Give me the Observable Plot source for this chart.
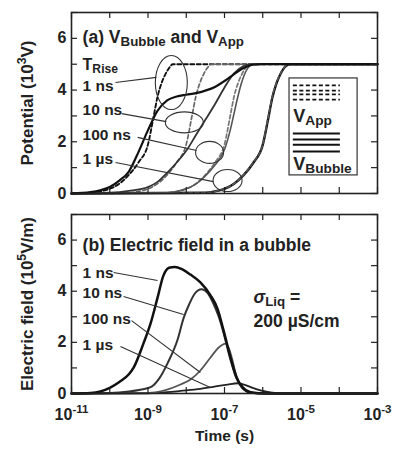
<!DOCTYPE html>
<html><head><meta charset="utf-8">
<script src="https://cdn.jsdelivr.net/npm/d3@7"></script>
<script src="https://cdn.jsdelivr.net/npm/@observablehq/plot@0.6"></script>
<style>
body{margin:0;background:#fff;}
#chart{position:relative;width:393px;height:454px;overflow:hidden;font-family:"Liberation Sans",Arial,sans-serif;}
#chart svg{position:absolute;left:0;}
</style></head><body><div id="chart"></div>
<script>
// ---------- DATA (x = log10(time / s)) ----------
const riseTimes = ["1 ns", "10 ns", "100 ns", "1 µs"];
const xTickExps = [-11, -9, -7, -5, -3];
const yTickLabels = [0, 2, 4, 6];

// (a) applied voltage (10^3 V), dashed
const vApp1ns   = [[-11,0],[-10.5,0.03],[-10.25,0.08],[-10,0.18],[-9.75,0.38],[-9.5,0.72],[-9.25,1.2],[-9,1.9],[-8.85,3.0],[-8.75,3.75],[-8.65,4.25],[-8.55,4.6],[-8.45,4.85],[-8.35,5],[-3,5]];
const vApp10ns  = [[-11,0],[-9.5,0.03],[-9.25,0.08],[-9,0.18],[-8.75,0.38],[-8.5,0.72],[-8.25,1.2],[-8,1.9],[-7.85,3.0],[-7.75,3.75],[-7.65,4.25],[-7.55,4.6],[-7.45,4.85],[-7.35,5],[-3,5]];
const vApp100ns = [[-11,0],[-8.5,0.03],[-8.25,0.08],[-8,0.18],[-7.75,0.38],[-7.5,0.72],[-7.25,1.2],[-7,1.9],[-6.85,3.0],[-6.75,3.75],[-6.65,4.25],[-6.55,4.6],[-6.45,4.85],[-6.35,5],[-3,5]];
const vApp1us   = [[-11,0],[-7.5,0.03],[-7.25,0.08],[-7,0.18],[-6.75,0.38],[-6.5,0.72],[-6.25,1.2],[-6,1.9],[-5.85,3.0],[-5.75,3.75],[-5.65,4.25],[-5.55,4.6],[-5.45,4.85],[-5.3,5],[-3,5]];
// (a) bubble voltage (10^3 V), solid
const vBub1ns   = [[-11,0],[-10.5,0.05],[-10.25,0.12],[-10,0.25],[-9.75,0.5],[-9.5,0.85],[-9.25,1.6],[-9,2.45],[-8.75,3.2],[-8.5,3.6],[-8.25,3.75],[-8,3.82],[-7.75,3.88],[-7.5,3.98],[-7.25,4.12],[-7,4.35],[-6.75,4.62],[-6.5,4.85],[-6.25,4.98],[-6,5],[-3,5]];
const vBub10ns  = [[-11,0],[-10,0.03],[-9.5,0.1],[-9,0.25],[-8.75,0.45],[-8.5,0.8],[-8.25,1.2],[-8,1.65],[-7.75,2.25],[-7.5,2.85],[-7.25,3.45],[-7,4.1],[-6.75,4.65],[-6.5,4.93],[-6.3,5],[-3,5]];
const vBub100ns = [[-11,0],[-8.5,0.03],[-8.25,0.08],[-8,0.18],[-7.75,0.36],[-7.5,0.68],[-7.25,1.1],[-7,1.7],[-6.85,2.45],[-6.75,3.1],[-6.65,3.75],[-6.55,4.3],[-6.45,4.7],[-6.35,4.92],[-6.25,5],[-3,5]];
const vBub1us   = [[-11,0],[-7.5,0.03],[-7.25,0.08],[-7,0.18],[-6.75,0.38],[-6.5,0.71],[-6.25,1.18],[-6,1.88],[-5.85,2.95],[-5.75,3.7],[-5.65,4.22],[-5.55,4.58],[-5.45,4.84],[-5.3,5],[-3,5]];
// (b) electric field in bubble (10^5 V/m)
const e1ns   = [[-11,0],[-10.5,0.02],[-10,0.22],[-9.75,0.45],[-9.5,0.75],[-9.38,1.0],[-9.12,1.95],[-8.93,2.75],[-8.75,3.75],[-8.6,4.6],[-8.45,4.92],[-8.3,4.95],[-8.1,4.85],[-7.89,4.65],[-7.63,4.35],[-7.37,3.85],[-7.18,3.3],[-7.03,2.5],[-6.84,1.4],[-6.69,0.65],[-6.53,0.25],[-6.32,0.05],[-5.9,0],[-3,0]];
const e10ns  = [[-11,0],[-10,0.02],[-9.5,0.08],[-9.2,0.15],[-8.93,0.25],[-8.7,0.6],[-8.49,1.18],[-8.23,2.09],[-8.07,2.95],[-7.92,3.5],[-7.78,3.9],[-7.6,4.08],[-7.45,3.95],[-7.3,3.55],[-7.15,3.0],[-7.03,2.4],[-6.84,1.3],[-6.69,0.6],[-6.53,0.2],[-6.32,0.03],[-5.9,0],[-3,0]];
const e100ns = [[-11,0],[-9,0.02],[-8.5,0.15],[-8.15,0.35],[-7.89,0.55],[-7.63,0.9],[-7.37,1.4],[-7.15,1.8],[-6.97,1.95],[-6.88,1.75],[-6.8,1.35],[-6.72,0.85],[-6.62,0.42],[-6.45,0.12],[-6.25,0.02],[-6,0],[-3,0]];
const e1us   = [[-11,0],[-9,0.01],[-8.5,0.05],[-8.15,0.1],[-7.63,0.18],[-7.29,0.26],[-6.92,0.35],[-6.65,0.4],[-6.45,0.33],[-6.3,0.24],[-6.06,0.12],[-5.8,0.04],[-5.5,0],[-3,0]];

// ---------- annotation placement (data units) ----------
const labelLogT = -10.71;
const topLabelV = [4.14, 3.21, 2.28, 1.35];
const botLabelV = [4.73, 3.91, 2.93, 1.88];
const topLeaders = [[-9.85,4.29,-8.78,4.49],[-9.69,3.09,-8.52,2.78],[-9.27,2.17,-7.73,1.66],[-9.85,1.20,-7.29,0.46]];
const botLeaders = [[-9.90,4.73,-8.75,4.42],[-9.64,3.79,-8.07,3.09],[-9.43,2.85,-7.63,0.82],[-9.72,1.84,-7.37,0.23]];
const ellipses = [{t:-8.39,v:4.29,rx:16,ry:27},{t:-8.05,v:2.75,rx:19,ry:10.5},{t:-7.39,v:1.59,rx:14,ry:11},{t:-6.92,v:0.50,rx:14.5,ry:11}];

// ---------- styles ----------
const topStyle = [
  {pts:vApp1ns, stroke:"#111", w:1.9, dash:"4,2.5"},
  {pts:vApp10ns, stroke:"#666", w:1.7, dash:"4,2.5"},
  {pts:vApp100ns, stroke:"#777", w:1.7, dash:"4,2.5"},
  {pts:vBub1us, stroke:"#111", w:2.4, dash:null},
  {pts:vApp1us, stroke:"#555", w:1.6, dash:"4,2.5"},
  {pts:vBub100ns, stroke:"#555", w:1.6, dash:null},
  {pts:vBub10ns, stroke:"#333", w:1.8, dash:null},
  {pts:vBub1ns, stroke:"#111", w:2.2, dash:null}
];
const botStyle = [
  {pts:e1us, stroke:"#222", w:1.8},
  {pts:e100ns, stroke:"#555", w:1.8},
  {pts:e10ns, stroke:"#333", w:2},
  {pts:e1ns, stroke:"#111", w:2.5}
];

const X = d => 10 ** d[0];
const Y = d => d[1];
const ink = "#222";
const FONT = "'Liberation Sans', Arial, sans-serif";

function ellipseSymbol(rx, ry) {
  const k = 0.5523;
  return {draw(c) {
    c.moveTo(rx, 0);
    c.bezierCurveTo(rx, k*ry, k*rx, ry, 0, ry);
    c.bezierCurveTo(-k*rx, ry, -rx, k*ry, -rx, 0);
    c.bezierCurveTo(-rx, -k*ry, -k*rx, -ry, 0, -ry);
    c.bezierCurveTo(k*rx, -ry, rx, -k*ry, rx, 0);
    c.closePath();
  }};
}

function frameMarks(plotW, plotH) {
  const yt = d3.range(0, 8);
  const xt = d3.range(-11, -2).map(e => 10 ** e);
  return [
    Plot.tickY(yt, {y: d => d, insetRight: plotW - 6, stroke: ink, strokeWidth: 1.2}),
    Plot.tickY(yt, {y: d => d, insetLeft: plotW - 6, stroke: ink, strokeWidth: 1.2}),
    Plot.tickX(xt, {x: d => d, insetTop: plotH - 6, stroke: ink, strokeWidth: 1.2}),
    Plot.tickX(xt, {x: d => d, insetBottom: plotH - 6, stroke: ink, strokeWidth: 1.2}),
    Plot.frame({stroke: ink, strokeWidth: 1.6}),
    Plot.axisY({ticks: yTickLabels, tickFormat: d => String(d), tickSize: 0, tickPadding: 5, fontSize: 16, fontWeight: "bold", label: null})
  ];
}

const W = 393, ML = 71, MR = 16;
const plotW = W - ML - MR;

// ---------- (a) ----------
const topH = 210, topMT = 12, topMB = 17;
const plotA = Plot.plot({
  width: W, height: topH, marginLeft: ML, marginRight: MR, marginTop: topMT, marginBottom: topMB,
  style: {fontFamily: FONT, color: ink, background: "transparent"},
  x: {type: "log", domain: [1e-11, 1e-3], axis: null},
  y: {domain: [0, 7], axis: null},
  marks: [
    ...topStyle.map(s => Plot.line(s.pts, {x: X, y: Y, stroke: s.stroke, strokeWidth: s.w, strokeDasharray: s.dash, curve: "monotone-x"})),
    ...ellipses.map(e => Plot.dot([e], {x: d => 10 ** d.t, y: "v", symbol: ellipseSymbol(e.rx, e.ry), stroke: "#333", strokeWidth: 1.1, fill: "none"})),
    Plot.link(topLeaders, {x1: d => 10 ** d[0], y1: d => d[1], x2: d => 10 ** d[2], y2: d => d[3], stroke: "#333", strokeWidth: 1.1}),
    Plot.text(riseTimes, {x: 10 ** labelLogT, y: (d, i) => topLabelV[i], text: d => d, textAnchor: "start", fontSize: 15.5, fontWeight: "bold", fill: ink}),
    Plot.text(["T_{Rise}"], {x: 10 ** labelLogT, y: 4.98, text: d => d, textAnchor: "start", fontSize: 16, fontWeight: "bold", fill: ink}),
    Plot.text(["(a) V_{Bubble} and V_{App}"], {x: 10 ** labelLogT, y: 6.05, text: d => d, textAnchor: "start", fontSize: 17.5, fontWeight: "bold", fill: ink}),
    // legend
    Plot.rect([0], {x1: 10 ** -5.3, x2: 10 ** -3.52, y1: 0.70, y2: 4.45, fill: "white", stroke: "#333", strokeWidth: 1.2}),
    Plot.ruleY([4.18, 3.98, 3.83, 3.63], {y: d => d, x1: 10 ** -5.2, x2: 10 ** -3.97, stroke: "#111", strokeWidth: 1.8, strokeDasharray: "4,2.5"}),
    Plot.ruleY([2.32, 2.09, 1.89, 1.62], {y: d => d, x1: 10 ** -5.2, x2: 10 ** -3.97, stroke: "#111", strokeWidth: 2}),
    Plot.text(["V_{App}"], {x: 10 ** -5.2, y: 3.0, text: d => d, textAnchor: "start", fontSize: 18, fontWeight: "bold", fill: ink}),
    Plot.text(["V_{Bubble}"], {x: 10 ** -5.2, y: 1.13, text: d => d, textAnchor: "start", fontSize: 18, fontWeight: "bold", fill: ink}),
    Plot.text(["Potential (10^{3}V)"], {frameAnchor: "left", dx: -44, rotate: -90, textAnchor: "middle", text: d => d, fontSize: 17, fontWeight: "bold", fill: ink}),
    ...frameMarks(plotW, topH - topMT - topMB)
  ]
});

// ---------- (b) ----------
const botH = 254, botMT = 14, botMB = 61;
const plotB = Plot.plot({
  width: W, height: botH, marginLeft: ML, marginRight: MR, marginTop: botMT, marginBottom: botMB,
  style: {fontFamily: FONT, color: ink, background: "transparent"},
  x: {type: "log", domain: [1e-11, 1e-3], axis: null},
  y: {domain: [0, 7], axis: null},
  marks: [
    ...botStyle.map(s => Plot.line(s.pts, {x: X, y: Y, stroke: s.stroke, strokeWidth: s.w, curve: "monotone-x"})),
    Plot.link(botLeaders, {x1: d => 10 ** d[0], y1: d => d[1], x2: d => 10 ** d[2], y2: d => d[3], stroke: "#333", strokeWidth: 1.1}),
    Plot.text(riseTimes, {x: 10 ** labelLogT, y: (d, i) => botLabelV[i], text: d => d, textAnchor: "start", fontSize: 15.5, fontWeight: "bold", fill: ink}),
    Plot.text(["(b) Electric field in a bubble"], {x: 10 ** labelLogT, y: 5.81, text: d => d, textAnchor: "start", fontSize: 17.5, fontWeight: "bold", fill: ink}),
    Plot.text(["*{σ}_{Liq} ="], {x: 10 ** -6.24, y: 3.75, text: d => d, textAnchor: "start", fontSize: 17.5, fontWeight: "bold", fill: ink}),
    Plot.text(["200 µS/cm"], {x: 10 ** -6.24, y: 2.82, text: d => d, textAnchor: "start", fontSize: 17.5, fontWeight: "bold", fill: ink}),
    Plot.text(["Electric field (10^{5}V/m)"], {frameAnchor: "left", dx: -44, rotate: -90, textAnchor: "middle", text: d => d, fontSize: 17, fontWeight: "bold", fill: ink}),
    Plot.text(["Time (s)"], {frameAnchor: "bottom", dy: 47, text: d => d, fontSize: 15.5, fontWeight: "bold", fill: ink}),
    Plot.axisX(xTickExps.map(e => 10 ** e), {tickSize: 0, tickPadding: 15, fontSize: 16, fontWeight: "bold", label: null, tickFormat: d => `10^{${Math.round(Math.log10(d))}}`}),
    ...frameMarks(plotW, botH - botMT - botMB)
  ]
});

const chart = document.getElementById("chart");
plotA.style.top = "0px";
plotB.style.top = "200px";
chart.appendChild(plotA);
chart.appendChild(plotB);

// rich text: _{sub}, ^{sup}, *{italic}
const NS = "http://www.w3.org/2000/svg";
function richify(svg) {
  svg.querySelectorAll("text").forEach(t => {
    if (t.querySelector("tspan")) return;
    const s = t.textContent;
    if (!/[_^*]\{/.test(s)) return;
    const fs = parseFloat(getComputedStyle(t).fontSize) || 16;
    t.textContent = "";
    const re = /([_^*])\{([^}]*)\}|([^_^*]+)/g;
    let m, cur = 0;
    while ((m = re.exec(s))) {
      const ts = document.createElementNS(NS, "tspan");
      let target = 0;
      if (m[3] !== undefined) {
        ts.textContent = m[3];
      } else {
        ts.textContent = m[2];
        if (m[1] === "^") { target = -0.42 * fs; ts.setAttribute("font-size", 0.72 * fs); }
        else if (m[1] === "_") { target = 0.17 * fs; ts.setAttribute("font-size", 0.76 * fs); }
        else { ts.setAttribute("font-style", "italic"); }
      }
      if (target - cur !== 0) ts.setAttribute("dy", target - cur);
      cur = target;
      t.appendChild(ts);
    }
  });
}
richify(plotA);
richify(plotB);
</script></body></html>
